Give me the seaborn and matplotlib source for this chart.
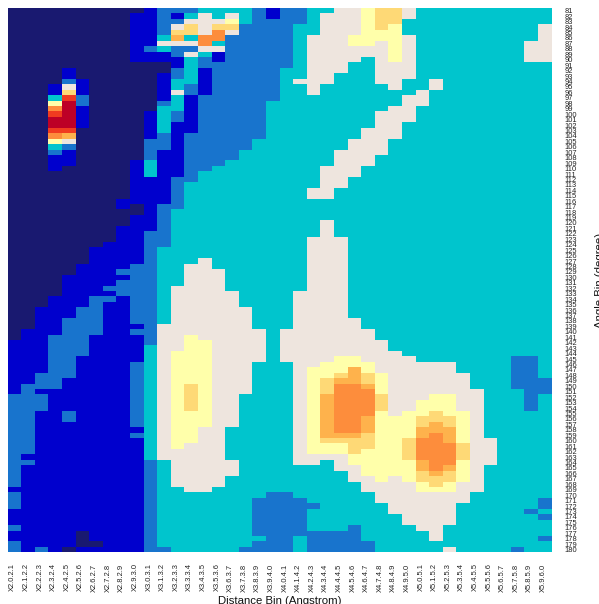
import numpy as np
import pandas as pd
import matplotlib
matplotlib.use("Agg")
import matplotlib.pyplot as plt
from matplotlib.colors import ListedColormap, BoundaryNorm
from matplotlib.transforms import ScaledTranslation
import seaborn as sns

# colour band of each cell, 0 (lowest) to a (highest), columns grouped in tens
rows = [
    "0000000000 1222333321 2233445664 3333333333",
    "0000000001 1213434321 2234445664 3333333333",
    "0000000001 1224445322 2234445663 3333333333",
    "0000000001 1246466222 2334445653 3333333334",
    "0000000001 1266484222 2334445553 3333333334",
    "0000000001 1373882222 2344455554 3333333334",
    "0000000001 1444832222 2344455454 3333333344",
    "0000000001 2322442222 2344444454 3333333344",
    "0000000001 1124312222 2344444454 3333333344",
    "0000000001 1113212222 2344443454 3333333344",
    "0000000000 0013222222 2344433444 3333333333",
    "0000100000 0023122222 3344433444 3333333333",
    "0000100000 0123122222 3344333444 3333333333",
    "0000210000 0133122222 3444333443 3433333333",
    "0001410000 0132122222 3343333343 3433333333",
    "0001610000 0142122222 3343333333 4333333333",
    "0003920000 0131222222 3333333334 4333333333",
    "0005a20000 0231222223 3333333334 4333333333",
    "0008a10000 0331222223 3333333344 3333333333",
    "0009a10000 1321222223 3333333444 3333333333",
    "000aa10000 1321222223 3333333444 3333333333",
    "000aa10000 1311222223 3333333443 3333333333",
    "0009900000 1311222223 3333334443 3333333333",
    "0008700000 1212222223 3333334443 3333333333",
    "0005400000 2212222233 3333344433 3333333333",
    "0003200000 2212222233 3333344433 3333333333",
    "0002100000 2112222333 3333444433 3333333333",
    "0001100000 2112222333 3333444333 3333333333",
    "0001100001 3112223333 3333444333 3333333333",
    "0001000001 3112233333 3334443333 3333333333",
    "0000000001 3112333333 3334443333 3333333333",
    "0000000001 1122333333 3334433333 3333333333",
    "0000000001 1123333333 3334433333 3333333333",
    "0000000001 1123333333 3344333333 3333333333",
    "0000000001 1123333333 3344333333 3333333333",
    "0000000011 1123333333 3333333333 3333333333",
    "0000000010 1223333333 3333333333 3333333333",
    "0000000000 1233333333 3333333333 3333333333",
    "0000000001 1233333333 3333333333 3333333333",
    "0000000001 1233333333 3334333333 3333333333",
    "0000000011 1233333333 3334333333 3333333333",
    "0000000011 2233333333 3334333333 3333333333",
    "0000000011 2233333333 3344433333 3333333333",
    "0000000111 2233333333 3344433333 3333333333",
    "0000001111 2333333333 3344433333 3333333333",
    "0000001111 2333333333 3344433333 3333333333",
    "0000001111 2333433333 3344433333 3333333333",
    "0000011112 2334433333 3344433333 3333333333",
    "0000011122 2334443333 3344433333 3333333333",
    "0000111112 2334443333 3344433333 3333333333",
    "0000111122 2334443333 3344433333 3333333333",
    "0000111222 2344443333 3344433333 3333333333",
    "0000111122 2344444333 3444433333 3333333333",
    "0001112212 2344444333 3444433333 3333333333",
    "0001112112 2344444333 3444433333 3333333333",
    "0011122112 2344444433 3444433333 3333333333",
    "0011122112 2344444433 3444433333 3333333333",
    "0011222112 2344444433 3444443333 3333333333",
    "0011222111 2444444433 3444443333 3333333333",
    "0111222112 2444444443 4444444333 3333333333",
    "0112221111 2445444443 4444444333 3333333333",
    "1112221111 2445544443 4444444433 3333333333",
    "1112221111 3445544443 4444444433 3333333333",
    "1112221111 3455544443 4444444443 3333333333",
    "1112211111 3455544443 4444554444 3333333223",
    "1112211112 3455544433 3445555444 4443333223",
    "1112211112 3455544433 3455575444 4443333223",
    "1122211112 3455544433 3455676544 4444333223",
    "1122111112 3455544433 3456776544 4444333222",
    "1222111112 3456544433 3456887544 4444333222",
    "1211111112 3456544433 3456888544 4444433322",
    "2221111112 3456544333 3457888644 4554433323",
    "2221111112 3456544333 3457888644 5554433323",
    "2221111112 3456544333 3457888644 5554433323",
    "2211211112 3455544333 3457888545 5655433333",
    "2211211112 3455544333 3457887555 6665433333",
    "2211111112 3455544333 3457887555 6765433333",
    "2211111111 3455443333 3457887555 7775433333",
    "2211111112 3455443333 3457776555 7875433333",
    "2211111111 3455443333 3456666556 8875443333",
    "2211111111 3454443333 3455566556 8886443333",
    "2211111111 3444443333 3455565556 8886443333",
    "2111111111 3444443333 3444455556 8886443333",
    "2211111111 2344444333 3443455555 7885443333",
    "2111111111 2344444333 3333445555 7875433333",
    "2111111111 2344444333 3333345555 6765433333",
    "2111111111 2344443333 3333344545 6665433333",
    "2111111111 2344443333 3333334444 5654433333",
    "1111111111 2334433333 3333334444 5554433333",
    "2111111111 2333333332 2333333444 4444333333",
    "2111111111 2333333322 2233333444 4444333332",
    "2111111111 2333333322 2223333344 4443333332",
    "1111111111 2333333322 2233333344 4443333323",
    "1111111111 2333333322 2233333334 4443333332",
    "1111111111 2333333322 2233333334 4443333333",
    "2111111111 2333333322 2233323333 4433333333",
    "1111101111 2333333322 2222223333 3433333333",
    "1111101111 2333333332 2322223333 3433333332",
    "2111100111 2333333322 2322222333 3333333333",
    "2121011111 2233333222 2322222333 3343333233",
]

distance_bins = [
    "X2.0.2.1", "X2.1.2.2", "X2.2.2.3", "X2.3.2.4", "X2.4.2.5", "X2.5.2.6", "X2.6.2.7", "X2.7.2.8",
    "X2.8.2.9", "X2.9.3.0", "X3.0.3.1", "X3.1.3.2", "X3.2.3.3", "X3.3.3.4", "X3.4.3.5", "X3.5.3.6",
    "X3.6.3.7", "X3.7.3.8", "X3.8.3.9", "X3.9.4.0", "X4.0.4.1", "X4.1.4.2", "X4.2.4.3", "X4.3.4.4",
    "X4.4.4.5", "X4.5.4.6", "X4.6.4.7", "X4.7.4.8", "X4.8.4.9", "X4.9.5.0", "X5.0.5.1", "X5.1.5.2",
    "X5.2.5.3", "X5.3.5.4", "X5.4.5.5", "X5.5.5.6", "X5.6.5.7", "X5.7.5.8", "X5.8.5.9", "X5.9.6.0",
]
angle_bins = list(range(81, 181))

colors = ["#191970", "#0000CD", "#1874CD", "#00C5CD", "#EEE5DE", "#FFFFAA",
          "#FED976", "#FEB24C", "#FD8D3C", "#F03B20", "#BD0026"]

values = np.array([[int(c, 16) for c in r.replace(" ", "")] for r in rows])
df = pd.DataFrame(values, index=angle_bins, columns=distance_bins)

sns.set_theme(style="white")
plt.rcParams['font.family'] = ['Liberation Sans', 'DejaVu Sans']

fig = plt.figure(figsize=(5.99, 6.04), dpi=100)
ax = fig.add_axes([7.5 / 599, 1 - 552.3 / 604, 544.2 / 599, 544.3 / 604])

cmap = ListedColormap(colors)
norm = BoundaryNorm(np.arange(-0.5, 11.5), cmap.N)
sns.heatmap(df, ax=ax, cmap=cmap, norm=norm, cbar=False, xticklabels=True, yticklabels=True)

# tick labels sit on the right and bottom, left aligned like the original
ax.yaxis.tick_right()
ax.tick_params(axis='both', length=0)
ax.tick_params(axis='x', labelsize=5.4, labelcolor='#222222', labelrotation=90, pad=8)
ax.tick_params(axis='y', labelsize=5.4, labelcolor='#222222', labelrotation=0, pad=9)
for t in ax.get_yticklabels():
    t.set_ha('left')
# x labels sit a little left of the cell centres
for t in ax.get_xticklabels():
    t.set_transform(t.get_transform() + ScaledTranslation(-1.5 / 100, 0, fig.dpi_scale_trans))

ax.set_xlabel("Distance Bin (Angstrom)", fontsize=8.2, color='#111111')
ax.xaxis.set_label_coords(0.5, -0.08)
ax.yaxis.set_label_position('right')
ax.set_ylabel("Angle Bin (degree)", fontsize=8.2, color='#111111', rotation=90)
ax.yaxis.set_label_coords(1.08, 0.5)

fig.savefig('out.png', dpi=100)
